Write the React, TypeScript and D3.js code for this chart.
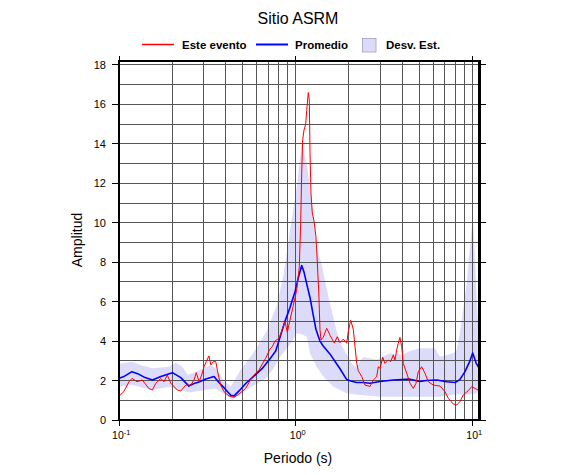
import React from 'react';
import * as d3 from 'd3';

// Sitio ASRM - espectro de amplitud
const titulo = 'Sitio ASRM';
const legendLabels = ['Este evento', 'Promedio', 'Desv. Est.'];
const yTicks = [0, 2, 4, 6, 8, 10, 12, 14, 16, 18];
const xMajor = [0.1, 1, 10];
const xExp = ['-1', '0', '1'];

// [periodo (s), amplitud]
const eventoData: [number, number][] = [
  [0.1, 1.22], [0.106, 1.44], [0.1135, 1.94], [0.118, 2.11], [0.126, 1.94], [0.135, 2.03],
  [0.147, 1.6], [0.154, 1.52], [0.161, 1.86], [0.172, 2.11], [0.179, 1.94], [0.187, 2.28],
  [0.196, 1.86], [0.213, 1.52], [0.223, 1.47], [0.238, 1.77], [0.254, 1.77], [0.265, 2.03],
  [0.273, 2.4], [0.283, 1.94], [0.293, 2.28], [0.302, 2.7], [0.311, 2.96], [0.322, 3.25],
  [0.33, 2.79], [0.341, 2.96], [0.352, 2.96], [0.364, 2.28], [0.375, 1.77], [0.392, 1.44],
  [0.418, 1.22], [0.447, 1.15], [0.477, 1.32], [0.52, 1.6], [0.567, 2.2], [0.619, 2.54],
  [0.675, 3.13], [0.714, 3.6], [0.736, 3.72], [0.762, 4.0], [0.803, 4.14], [0.839, 4.6],
  [0.868, 5.0], [0.895, 4.45], [0.927, 5.07], [0.968, 5.8], [1.012, 6.6], [1.047, 7.77],
  [1.066, 10.0], [1.08, 12.5], [1.094, 14.2], [1.113, 14.7], [1.138, 15.0], [1.153, 15.7],
  [1.177, 16.6], [1.193, 16.2], [1.204, 13.5], [1.219, 11.5], [1.24, 10.5], [1.268, 10.1],
  [1.301, 9.3], [1.324, 8.0], [1.349, 6.5], [1.371, 4.6], [1.389, 4.06], [1.432, 4.2],
  [1.496, 4.65], [1.562, 4.3], [1.652, 3.9], [1.718, 4.22], [1.78, 3.92], [1.858, 4.1],
  [1.943, 3.89], [1.984, 4.5], [2.047, 5.05], [2.118, 4.6], [2.165, 3.72], [2.213, 2.9],
  [2.259, 2.5], [2.363, 2.2], [2.466, 1.77], [2.633, 1.7], [2.749, 2.03], [2.873, 2.2],
  [2.934, 2.7], [3.0, 2.62], [3.108, 3.18], [3.2, 2.87], [3.342, 3.04], [3.45, 2.96],
  [3.568, 3.3], [3.648, 3.04], [3.73, 3.55], [3.808, 3.89], [3.892, 4.19], [3.98, 3.72],
  [4.064, 2.87], [4.25, 2.37], [4.44, 1.86], [4.63, 1.6], [4.797, 1.86], [4.943, 2.45],
  [5.165, 2.7], [5.395, 2.37], [5.63, 1.94], [6.01, 1.77], [6.56, 1.72], [7.0, 1.44],
  [7.31, 1.1], [7.81, 0.81], [8.16, 0.76], [8.51, 0.93], [8.89, 1.27], [9.49, 1.49],
  [9.92, 1.69], [10.36, 1.6], [10.96, 1.49],
];

const promedioData: [number, number][] = [
  [0.1, 2.12], [0.106, 2.2], [0.118, 2.45], [0.127, 2.35], [0.14, 2.15], [0.154, 2.03],
  [0.172, 2.2], [0.2, 2.4], [0.223, 2.15], [0.248, 1.72], [0.265, 1.85], [0.283, 1.93],
  [0.309, 2.08], [0.344, 2.2], [0.367, 1.9], [0.4, 1.55], [0.428, 1.25], [0.447, 1.22],
  [0.48, 1.5], [0.52, 1.85], [0.567, 2.15], [0.644, 2.6], [0.714, 3.1], [0.769, 3.5],
  [0.814, 4.2], [0.868, 5.0], [0.927, 5.7], [0.99, 6.5], [1.033, 7.2], [1.08, 7.83],
  [1.113, 7.5], [1.153, 6.9], [1.204, 6.2], [1.256, 5.3], [1.3, 4.6], [1.37, 4.0],
  [1.43, 3.75], [1.56, 3.35], [1.78, 2.6], [1.943, 2.05], [2.05, 1.98], [2.21, 1.9],
  [2.4, 1.9], [2.63, 1.86], [3.0, 1.95], [3.57, 2.03], [4.44, 2.07], [5.05, 1.95],
  [5.5, 2.0], [6.28, 2.03], [7.16, 1.94], [7.98, 1.9], [8.5, 2.05], [9.09, 2.45],
  [9.7, 3.0], [10.05, 3.4], [10.5, 2.9], [10.96, 2.6],
];

const desvSup: [number, number][] = [
  [0.1, 2.85], [0.118, 2.95], [0.13, 2.8], [0.154, 2.62], [0.19, 2.7], [0.209, 2.9],
  [0.228, 2.7], [0.243, 2.3], [0.265, 2.4], [0.295, 2.6], [0.33, 2.8], [0.352, 2.6],
  [0.375, 2.2], [0.4, 1.9], [0.428, 1.7], [0.483, 2.5], [0.574, 3.4], [0.684, 4.5],
  [0.779, 5.8], [0.85, 7.3], [0.927, 9.6], [1.012, 11.8], [1.08, 14.0], [1.153, 13.0],
  [1.204, 11.8], [1.256, 10.3], [1.313, 8.8], [1.4, 7.9], [1.53, 6.25], [1.705, 4.5],
  [1.78, 3.9], [1.98, 3.2], [2.12, 2.75], [2.21, 2.7], [2.41, 3.2], [2.87, 3.05],
  [3.42, 3.38], [3.98, 3.3], [4.44, 3.5], [5.05, 3.64], [6.15, 3.64], [6.56, 3.21],
  [7.8, 3.38], [8.16, 3.55], [8.5, 4.4], [9.29, 6.9], [9.92, 9.8], [10.13, 9.97],
  [10.5, 6.93], [10.81, 4.56], [10.96, 4.0],
];

const desvInf: [number, number][] = [
  [0.1, 1.69], [0.118, 1.77], [0.154, 1.52], [0.191, 1.69], [0.2275, 1.49], [0.248, 1.39],
  [0.309, 1.52], [0.352, 1.6], [0.401, 1.27], [0.437, 1.02], [0.477, 1.25], [0.567, 1.7],
  [0.675, 2.1], [0.746, 2.6], [0.814, 3.2], [0.868, 3.5], [0.955, 4.0], [1.012, 4.4],
  [1.08, 4.36], [1.153, 4.22], [1.204, 3.38], [1.313, 2.7], [1.432, 2.2], [1.631, 1.69],
  [1.943, 1.35], [2.31, 1.27], [3.0, 1.18], [5.25, 1.18], [6.56, 1.18], [8.16, 1.3],
  [9.29, 1.27], [10.59, 1.35], [10.96, 1.44],
];

const W = 586;
const H = 475;
const margin = { top: 61, right: 106.4, bottom: 55, left: 119.3 };
const font = 'Liberation Sans, Arial, Helvetica, sans-serif';
const bandColor = '#dcdcfa';

export default function App() {
  const x = d3.scaleLog().domain([0.1, 11]).range([margin.left, W - margin.right]);
  const y = d3.scaleLinear().domain([0, 18.2]).range([H - margin.bottom, margin.top]);

  const line = d3.line<[number, number]>().x(d => x(d[0])).y(d => y(d[1]));
  const bandPath = line([...desvSup, ...desvInf.slice().reverse()]) + 'Z';

  const gridX: number[] = [];
  for (const dec of [0.1, 1]) for (let k = 2; k <= 9; k++) gridX.push(dec * k);
  gridX.push(1, 10);
  const gridY = d3.range(1, 19);

  const x0 = x.range()[0], x1 = x.range()[1];
  const y0 = y.range()[0], y1 = y.range()[1];

  return (
    <svg width={W} height={H} style={{ position: 'absolute', left: 0, top: 0 }} fontFamily={font}>
      <rect width={W} height={H} fill="#fff" />
      <text x={298} y={24} textAnchor="middle" fontSize={16}>{titulo}</text>

      {/* leyenda */}
      <g fontSize={11.5} fontWeight="bold">
        <line x1={142} x2={174} y1={44.5} y2={44.5} stroke="#ff0000" strokeWidth={1.5} />
        <text x={182} y={49}>{legendLabels[0]}</text>
        <line x1={256} x2={288} y1={44.5} y2={44.5} stroke="#0000ff" strokeWidth={2} />
        <text x={295} y={49}>{legendLabels[1]}</text>
        <rect x={362.5} y={38.5} width={13.5} height={13.5} fill={bandColor} stroke="#a0a0c0" strokeWidth={0.8} />
        <text x={386} y={49}>{legendLabels[2]}</text>
      </g>

      <path d={bandPath} fill={bandColor} stroke="none" />

      <g stroke="#555" strokeWidth={1} shapeRendering="crispEdges">
        {gridX.map(v => <line key={'gx' + v} x1={x(v)} x2={x(v)} y1={y0} y2={y1} />)}
        {gridY.map(v => <line key={'gy' + v} x1={x0} x2={x1} y1={y(v)} y2={y(v)} />)}
      </g>

      <path d={line(promedioData) || ''} fill="none" stroke="#0000ff" strokeWidth={1.6} strokeLinejoin="round" />
      <path d={line(eventoData) || ''} fill="none" stroke="#ff0000" strokeWidth={1} strokeLinejoin="round" />

      {/* marco y ticks */}
      <g stroke="#000" shapeRendering="crispEdges">
        {yTicks.map(v => (
          <g key={'ty' + v}>
            <line x1={x0 - 7} x2={x0} y1={y(v)} y2={y(v)} strokeWidth={1} />
            <line x1={x1} x2={x1 + 6} y1={y(v)} y2={y(v)} strokeWidth={1} />
          </g>
        ))}
        {xMajor.map(v => (
          <g key={'tx' + v}>
            <line x1={x(v)} x2={x(v)} y1={y0} y2={y0 + 6} strokeWidth={1} />
            <line x1={x(v)} x2={x(v)} y1={y1 - 5} y2={y1} strokeWidth={1} />
          </g>
        ))}
        <rect x={x0} y={y1} width={x1 - x0} height={y0 - y1} fill="none" strokeWidth={2.2} />
      </g>

      <g fontSize={11} textAnchor="end">
        {yTicks.map(v => <text key={'ly' + v} x={106} y={y(v) + 4}>{v}</text>)}
      </g>
      <g fontSize={10.5} textAnchor="middle">
        {xMajor.map((v, i) => (
          <text key={'lx' + v} x={x(v) + 2} y={439}>10<tspan fontSize={7.5} dy={-4.5}>{xExp[i]}</tspan></text>
        ))}
      </g>

      <text x={298} y={463} textAnchor="middle" fontSize={14}>Periodo (s)</text>
      <text transform={`translate(82,240) rotate(-90)`} textAnchor="middle" fontSize={14}>Amplitud</text>
    </svg>
  );
}
